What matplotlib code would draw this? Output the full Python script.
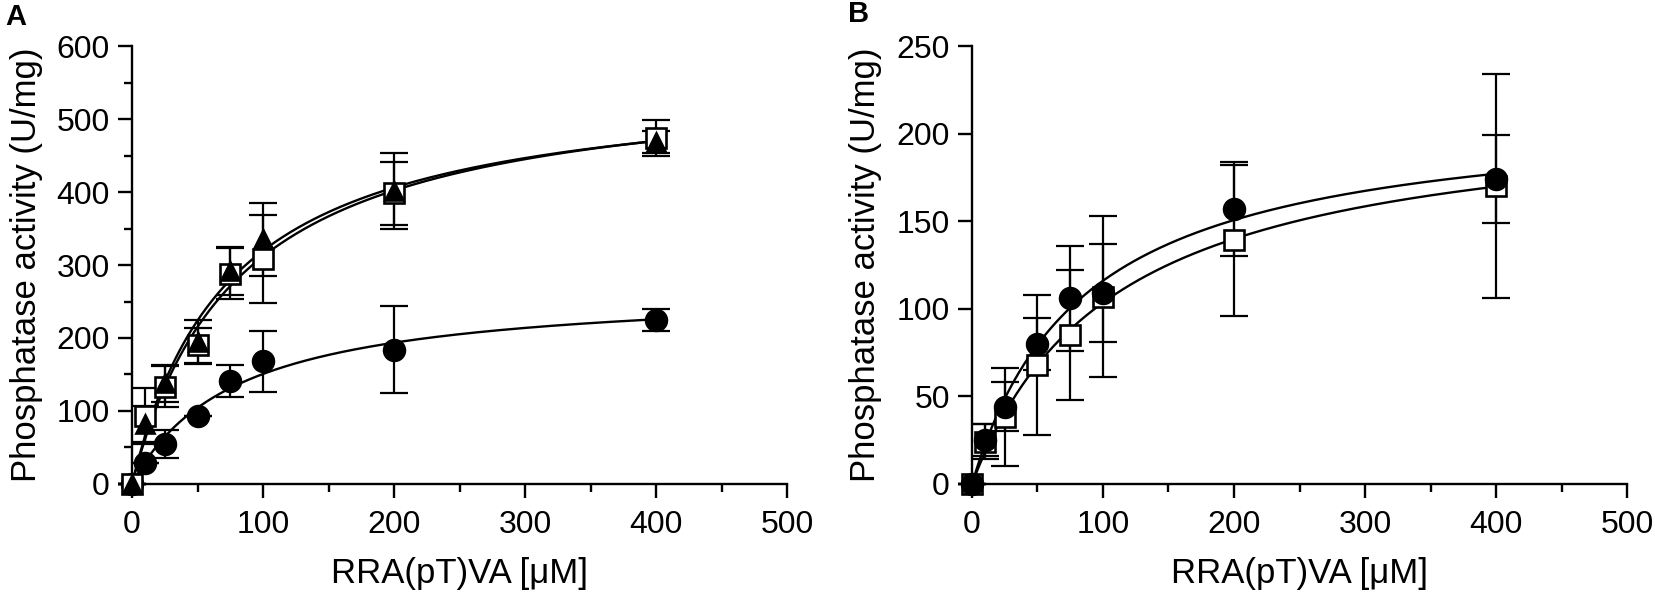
import numpy as np
from matplotlib import pyplot as plt
from matplotlib.ticker import MultipleLocator

plt.rcParams['font.family'] = ['Liberation Sans', 'DejaVu Sans']

# substrate concentrations (uM)
conc = [0, 10, 25, 50, 75, 100, 200, 400]

# panel A
a_square = [0, 93, 133, 190, 288, 308, 398, 474]
a_square_err = [0, 38, 28, 24, 35, 60, 43, 25]
a_triangle = [0, 82, 138, 195, 292, 335, 402, 468]
a_triangle_err = [0, 25, 25, 30, 33, 50, 52, 15]
a_circle = [0, 29, 55, 93, 141, 168, 184, 225]
a_circle_err = [0, 0, 19, 0, 22, 42, 60, 15]

# panel B
b_circle = [0, 25, 44, 80, 106, 109, 157, 174]
b_circle_err = [0, 9, 14, 15, 30, 28, 27, 25]
b_square = [0, 24, 38, 68, 85, 107, 139, 170]
b_square_err = [0, 10, 28, 40, 37, 46, 43, 64]


def mm_fit(x, y):
    # Michaelis-Menten least squares: grid on Km, Vmax in closed form
    x = np.asarray(x, float)
    y = np.asarray(y, float)
    best = None
    for km in np.linspace(1, 1000, 20000):
        f = x / (km + x)
        vmax = np.sum(y * f) / np.sum(f * f)
        sse = np.sum((y - vmax * f) ** 2)
        if best is None or sse < best[0]:
            best = (sse, vmax, km)
    return best[1], best[2]


def draw_series(ax, y, err, marker, face, z, ms):
    vmax, km = mm_fit(conc, y)
    xs = np.linspace(0, 400, 400)
    ax.plot(xs, vmax * xs / (km + xs), color='black', lw=1.7, zorder=2, clip_on=False)
    ax.errorbar(conc, y, yerr=err, fmt='none', ecolor='black', elinewidth=1.6,
                capsize=10, capthick=1.6, zorder=3, clip_on=False)
    ax.plot(conc, y, linestyle='none', marker=marker, markersize=ms,
            markerfacecolor=face, markeredgecolor='black', markeredgewidth=1.9,
            zorder=z, clip_on=False)


def style_axes(ax, ymax, ymajor, yminor):
    ax.set_xlim(0, 500)
    ax.set_ylim(0, ymax)
    ax.spines['top'].set_visible(False)
    ax.spines['right'].set_visible(False)
    ax.spines['left'].set_linewidth(1.7)
    ax.spines['bottom'].set_linewidth(1.7)
    ax.xaxis.set_major_locator(MultipleLocator(100))
    ax.xaxis.set_minor_locator(MultipleLocator(50))
    ax.yaxis.set_major_locator(MultipleLocator(ymajor))
    if yminor:
        ax.yaxis.set_minor_locator(MultipleLocator(yminor))
    ax.tick_params(which='major', length=10, width=1.7, labelsize=23)
    ax.tick_params(which='minor', length=6, width=1.7)
    ax.tick_params(axis='x', which='major', pad=9)
    ax.tick_params(axis='y', which='major', pad=6)
    ax.set_xlabel('RRA(pT)VA [μM]', fontsize=25, labelpad=12)
    ax.set_ylabel('Phosphatase activity (U/mg)', fontsize=25, labelpad=10)


fig = plt.figure(figsize=(16.55, 6.04), dpi=100)
axA = fig.add_axes([0.0798, 0.1987, 0.3958, 0.7251])
axB = fig.add_axes([0.5873, 0.1987, 0.3958, 0.7251])

draw_series(axA, a_circle, a_circle_err, 'o', 'black', 4, 15)
draw_series(axA, a_square, a_square_err, 's', 'white', 5, 14.5)
draw_series(axA, a_triangle, a_triangle_err, '^', 'black', 6, 13)
style_axes(axA, 600, 100, 50)

draw_series(axB, b_square, b_square_err, 's', 'white', 5, 14.5)
draw_series(axB, b_circle, b_circle_err, 'o', 'black', 6, 15)
style_axes(axB, 250, 50, None)

fig.text(0.003, 0.972, 'A', fontsize=21, fontweight='bold', va='center')
fig.text(0.5125, 0.976, 'B', fontsize=21, fontweight='bold', va='center')

plt.savefig('out.png', dpi=100)
